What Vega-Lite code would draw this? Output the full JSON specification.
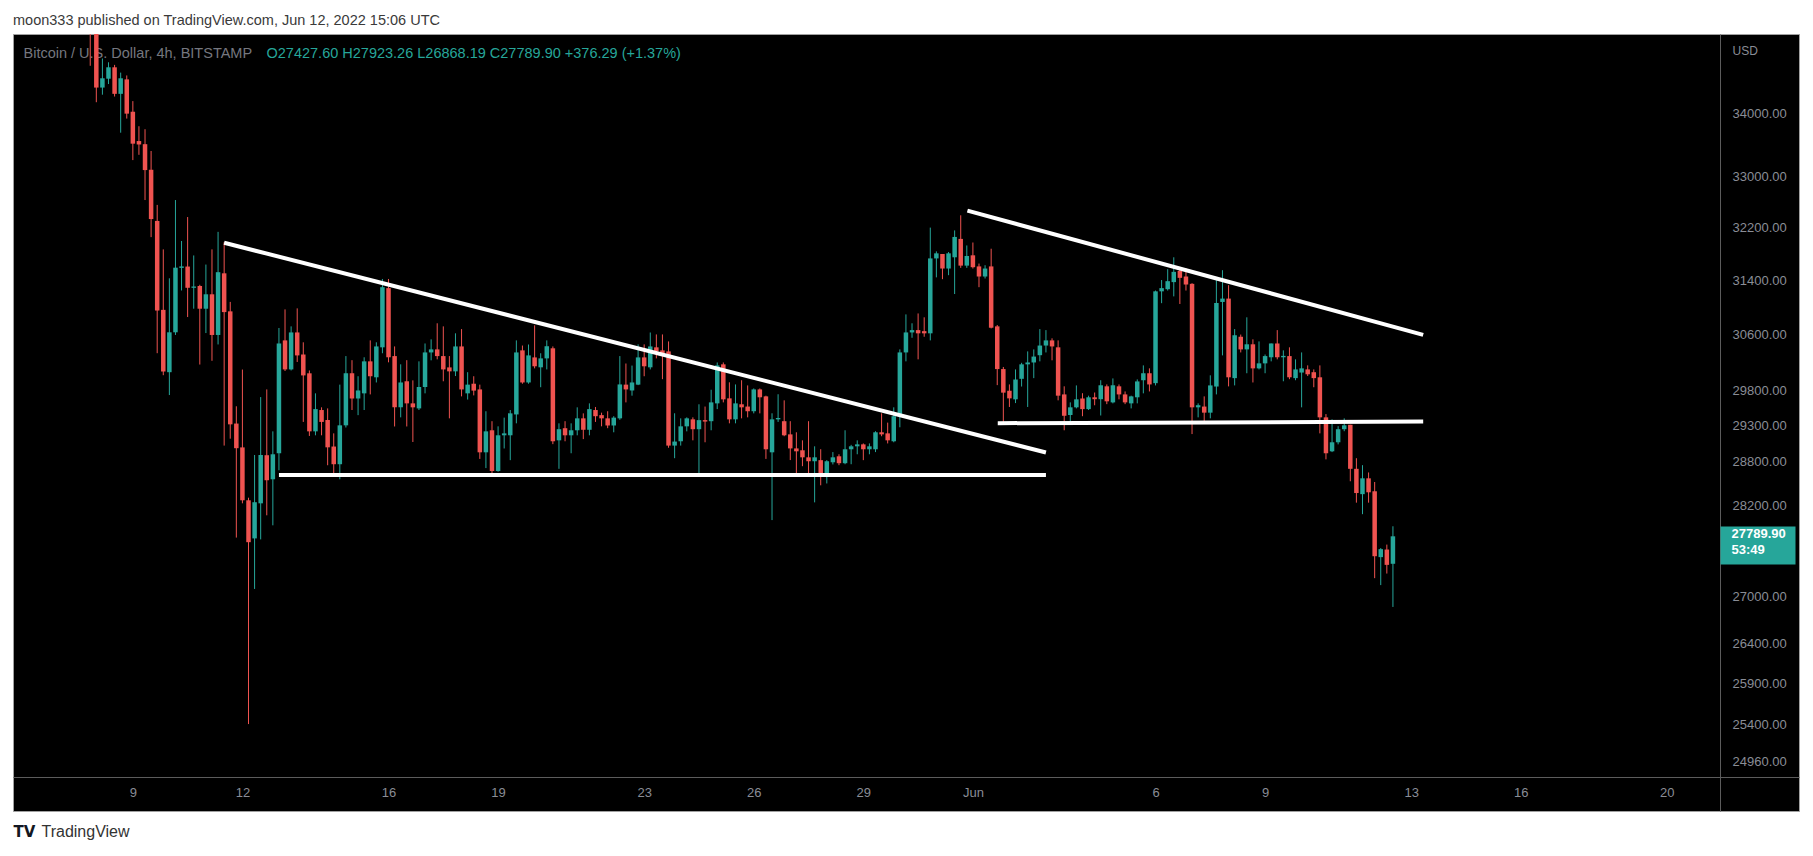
{
  "$schema": "https://vega.github.io/schema/vega-lite/v6.json",
  "width": 1786,
  "height": 777,
  "autosize": {"type": "none"},
  "padding": {"left": 13, "top": 34, "right": 14, "bottom": 45},
  "background": "#ffffff",
  "config": {
    "view": {"fill": "#000000", "stroke": "#a0a0a0", "strokeWidth": 1},
    "font": "Liberation Sans",
    "axis": {"grid": false, "labelFont": "Liberation Sans", "titleFont": "Liberation Sans"}
  },
  "title": {
    "text": "moon333 published on TradingView.com, Jun 12, 2022 15:06 UTC",
    "anchor": "start",
    "frame": "group",
    "orient": "top",
    "offset": -8,
    "baseline": "bottom",
    "font": "Liberation Sans",
    "fontSize": 14.5,
    "fontWeight": "normal",
    "color": "#3a3a3a"
  },
  "datasets": {
    "candles": [
      {"t": "2022-05-07T20:00:00Z", "o": 35800, "h": 36000, "l": 34790, "c": 35450},
      {"t": "2022-05-08T00:00:00Z", "o": 35450, "h": 35600, "l": 34190, "c": 34430},
      {"t": "2022-05-08T04:00:00Z", "o": 34430, "h": 34911, "l": 34313, "c": 34583},
      {"t": "2022-05-08T08:00:00Z", "o": 34576, "h": 34848, "l": 34488, "c": 34765},
      {"t": "2022-05-08T12:00:00Z", "o": 34765, "h": 34805, "l": 34283, "c": 34327},
      {"t": "2022-05-08T16:00:00Z", "o": 34327, "h": 34677, "l": 33696, "c": 34583},
      {"t": "2022-05-08T20:00:00Z", "o": 34565, "h": 34630, "l": 33924, "c": 34004},
      {"t": "2022-05-09T00:00:00Z", "o": 34035, "h": 34208, "l": 33258, "c": 33520},
      {"t": "2022-05-09T04:00:00Z", "o": 33562, "h": 33800, "l": 33342, "c": 33507},
      {"t": "2022-05-09T08:00:00Z", "o": 33512, "h": 33752, "l": 32630, "c": 33100},
      {"t": "2022-05-09T12:00:00Z", "o": 33105, "h": 33403, "l": 32057, "c": 32335},
      {"t": "2022-05-09T16:00:00Z", "o": 32306, "h": 32554, "l": 30329, "c": 30953},
      {"t": "2022-05-09T20:00:00Z", "o": 30963, "h": 31870, "l": 30012, "c": 30065},
      {"t": "2022-05-10T00:00:00Z", "o": 30055, "h": 31433, "l": 29729, "c": 30633},
      {"t": "2022-05-10T04:00:00Z", "o": 30633, "h": 32630, "l": 30594, "c": 31593},
      {"t": "2022-05-10T08:00:00Z", "o": 31590, "h": 31998, "l": 31251, "c": 31612},
      {"t": "2022-05-10T12:00:00Z", "o": 31610, "h": 32366, "l": 30857, "c": 31291},
      {"t": "2022-05-10T16:00:00Z", "o": 31291, "h": 31778, "l": 30980, "c": 31310},
      {"t": "2022-05-10T20:00:00Z", "o": 31318, "h": 31336, "l": 30165, "c": 30980},
      {"t": "2022-05-11T00:00:00Z", "o": 30980, "h": 31640, "l": 30622, "c": 31194},
      {"t": "2022-05-11T04:00:00Z", "o": 31194, "h": 31870, "l": 30219, "c": 30594},
      {"t": "2022-05-11T08:00:00Z", "o": 30594, "h": 32138, "l": 30456, "c": 31525},
      {"t": "2022-05-11T12:00:00Z", "o": 31508, "h": 31980, "l": 29020, "c": 30930},
      {"t": "2022-05-11T16:00:00Z", "o": 30941, "h": 31081, "l": 29116, "c": 29316},
      {"t": "2022-05-11T20:00:00Z", "o": 29327, "h": 29570, "l": 27773, "c": 28984},
      {"t": "2022-05-12T00:00:00Z", "o": 28995, "h": 30093, "l": 28231, "c": 28272},
      {"t": "2022-05-12T04:00:00Z", "o": 28272, "h": 28307, "l": 25407, "c": 27712},
      {"t": "2022-05-12T08:00:00Z", "o": 27762, "h": 28890, "l": 27100, "c": 28246},
      {"t": "2022-05-12T12:00:00Z", "o": 28231, "h": 29700, "l": 27749, "c": 28890},
      {"t": "2022-05-12T16:00:00Z", "o": 28887, "h": 29809, "l": 28070, "c": 28544},
      {"t": "2022-05-12T20:00:00Z", "o": 28557, "h": 29218, "l": 27936, "c": 28900},
      {"t": "2022-05-13T00:00:00Z", "o": 28914, "h": 30696, "l": 28680, "c": 30470},
      {"t": "2022-05-13T04:00:00Z", "o": 30515, "h": 30970, "l": 30072, "c": 30095},
      {"t": "2022-05-13T08:00:00Z", "o": 30095, "h": 30720, "l": 30080, "c": 30631},
      {"t": "2022-05-13T12:00:00Z", "o": 30631, "h": 30985, "l": 30202, "c": 30297},
      {"t": "2022-05-13T16:00:00Z", "o": 30310, "h": 30487, "l": 29350, "c": 30009},
      {"t": "2022-05-13T20:00:00Z", "o": 30039, "h": 30080, "l": 29154, "c": 29218},
      {"t": "2022-05-14T00:00:00Z", "o": 29218, "h": 29753, "l": 29163, "c": 29530},
      {"t": "2022-05-14T04:00:00Z", "o": 29517, "h": 29555, "l": 29163, "c": 29350},
      {"t": "2022-05-14T08:00:00Z", "o": 29377, "h": 29540, "l": 28749, "c": 28996},
      {"t": "2022-05-14T12:00:00Z", "o": 29007, "h": 29190, "l": 28612, "c": 28763},
      {"t": "2022-05-14T16:00:00Z", "o": 28763, "h": 29877, "l": 28557, "c": 29302},
      {"t": "2022-05-14T20:00:00Z", "o": 29302, "h": 30287, "l": 29272, "c": 30040},
      {"t": "2022-05-15T00:00:00Z", "o": 30040, "h": 30228, "l": 29517, "c": 29680},
      {"t": "2022-05-15T04:00:00Z", "o": 29680, "h": 29997, "l": 29445, "c": 29794},
      {"t": "2022-05-15T08:00:00Z", "o": 29753, "h": 30270, "l": 29517, "c": 30211},
      {"t": "2022-05-15T12:00:00Z", "o": 30211, "h": 30515, "l": 29738, "c": 29997},
      {"t": "2022-05-15T16:00:00Z", "o": 29982, "h": 30487, "l": 29908, "c": 30427},
      {"t": "2022-05-15T20:00:00Z", "o": 30414, "h": 31423, "l": 30328, "c": 31300},
      {"t": "2022-05-16T00:00:00Z", "o": 31286, "h": 31423, "l": 30197, "c": 30270},
      {"t": "2022-05-16T04:00:00Z", "o": 30287, "h": 30427, "l": 29286, "c": 29556},
      {"t": "2022-05-16T08:00:00Z", "o": 29556, "h": 30168, "l": 29414, "c": 29908},
      {"t": "2022-05-16T12:00:00Z", "o": 29925, "h": 30228, "l": 29286, "c": 29611},
      {"t": "2022-05-16T16:00:00Z", "o": 29611, "h": 29938, "l": 29070, "c": 29555},
      {"t": "2022-05-16T20:00:00Z", "o": 29540, "h": 30211, "l": 29517, "c": 29843},
      {"t": "2022-05-17T00:00:00Z", "o": 29843, "h": 30470, "l": 29753, "c": 30340},
      {"t": "2022-05-17T04:00:00Z", "o": 30340, "h": 30530, "l": 30226, "c": 30384},
      {"t": "2022-05-17T08:00:00Z", "o": 30384, "h": 30765, "l": 30240, "c": 30287},
      {"t": "2022-05-17T12:00:00Z", "o": 30287, "h": 30720, "l": 29925, "c": 30095},
      {"t": "2022-05-17T16:00:00Z", "o": 30124, "h": 30287, "l": 29400, "c": 30067},
      {"t": "2022-05-17T20:00:00Z", "o": 30067, "h": 30618, "l": 30000, "c": 30427},
      {"t": "2022-05-18T00:00:00Z", "o": 30427, "h": 30680, "l": 29710, "c": 29809},
      {"t": "2022-05-18T04:00:00Z", "o": 29753, "h": 30055, "l": 29665, "c": 29877},
      {"t": "2022-05-18T08:00:00Z", "o": 29890, "h": 29997, "l": 29724, "c": 29792},
      {"t": "2022-05-18T12:00:00Z", "o": 29809, "h": 29877, "l": 28836, "c": 28927},
      {"t": "2022-05-18T16:00:00Z", "o": 28927, "h": 29500, "l": 28710, "c": 29218},
      {"t": "2022-05-18T20:00:00Z", "o": 29233, "h": 29360, "l": 28612, "c": 28670},
      {"t": "2022-05-19T00:00:00Z", "o": 28670, "h": 29288, "l": 28660, "c": 29163},
      {"t": "2022-05-19T04:00:00Z", "o": 29163, "h": 29410, "l": 28980, "c": 29190},
      {"t": "2022-05-19T08:00:00Z", "o": 29163, "h": 29517, "l": 28819, "c": 29470},
      {"t": "2022-05-19T12:00:00Z", "o": 29455, "h": 30515, "l": 29330, "c": 30340},
      {"t": "2022-05-19T16:00:00Z", "o": 30370, "h": 30440, "l": 29890, "c": 29908},
      {"t": "2022-05-19T20:00:00Z", "o": 29908, "h": 30455, "l": 29890, "c": 30297},
      {"t": "2022-05-20T00:00:00Z", "o": 30268, "h": 30735, "l": 30110, "c": 30140},
      {"t": "2022-05-20T04:00:00Z", "o": 30125, "h": 30328, "l": 29840, "c": 30254},
      {"t": "2022-05-20T08:00:00Z", "o": 30254, "h": 30515, "l": 30095, "c": 30430},
      {"t": "2022-05-20T12:00:00Z", "o": 30400, "h": 30427, "l": 29040, "c": 29080},
      {"t": "2022-05-20T16:00:00Z", "o": 29093, "h": 29330, "l": 28700, "c": 29248},
      {"t": "2022-05-20T20:00:00Z", "o": 29262, "h": 29360, "l": 29080, "c": 29163},
      {"t": "2022-05-21T00:00:00Z", "o": 29163, "h": 29330, "l": 28914, "c": 29233},
      {"t": "2022-05-21T04:00:00Z", "o": 29233, "h": 29555, "l": 29163, "c": 29400},
      {"t": "2022-05-21T08:00:00Z", "o": 29400, "h": 29470, "l": 29110, "c": 29240},
      {"t": "2022-05-21T12:00:00Z", "o": 29240, "h": 29611, "l": 29163, "c": 29530},
      {"t": "2022-05-21T16:00:00Z", "o": 29517, "h": 29560, "l": 29350, "c": 29430},
      {"t": "2022-05-21T20:00:00Z", "o": 29445, "h": 29480, "l": 29288, "c": 29400},
      {"t": "2022-05-22T00:00:00Z", "o": 29400, "h": 29500, "l": 29262, "c": 29300},
      {"t": "2022-05-22T04:00:00Z", "o": 29300, "h": 29430, "l": 29205, "c": 29410},
      {"t": "2022-05-22T08:00:00Z", "o": 29400, "h": 30287, "l": 29380, "c": 29880},
      {"t": "2022-05-22T12:00:00Z", "o": 29877, "h": 30180, "l": 29625, "c": 29809},
      {"t": "2022-05-22T16:00:00Z", "o": 29794, "h": 30150, "l": 29720, "c": 29908},
      {"t": "2022-05-22T20:00:00Z", "o": 29877, "h": 30457, "l": 29870, "c": 30268},
      {"t": "2022-05-23T00:00:00Z", "o": 30268, "h": 30457, "l": 29997, "c": 30140},
      {"t": "2022-05-23T04:00:00Z", "o": 30125, "h": 30630, "l": 30095, "c": 30427},
      {"t": "2022-05-23T08:00:00Z", "o": 30414, "h": 30602, "l": 30254, "c": 30355},
      {"t": "2022-05-23T12:00:00Z", "o": 30370, "h": 30602, "l": 29955, "c": 30326},
      {"t": "2022-05-23T16:00:00Z", "o": 30355, "h": 30500, "l": 28990, "c": 29020},
      {"t": "2022-05-23T20:00:00Z", "o": 29020, "h": 29471, "l": 28846, "c": 29076},
      {"t": "2022-05-24T00:00:00Z", "o": 29080, "h": 29400, "l": 29020, "c": 29288},
      {"t": "2022-05-24T04:00:00Z", "o": 29288, "h": 29414, "l": 29218, "c": 29400},
      {"t": "2022-05-24T08:00:00Z", "o": 29386, "h": 29414, "l": 29093, "c": 29248},
      {"t": "2022-05-24T12:00:00Z", "o": 29248, "h": 29598, "l": 28625, "c": 29375},
      {"t": "2022-05-24T16:00:00Z", "o": 29375, "h": 29566, "l": 29066, "c": 29355},
      {"t": "2022-05-24T20:00:00Z", "o": 29360, "h": 29804, "l": 29233, "c": 29625},
      {"t": "2022-05-25T00:00:00Z", "o": 29611, "h": 30195, "l": 29530, "c": 30153},
      {"t": "2022-05-25T04:00:00Z", "o": 30168, "h": 30195, "l": 29625, "c": 29668},
      {"t": "2022-05-25T08:00:00Z", "o": 29682, "h": 29910, "l": 29330, "c": 29386},
      {"t": "2022-05-25T12:00:00Z", "o": 29386, "h": 29880, "l": 29330, "c": 29611},
      {"t": "2022-05-25T16:00:00Z", "o": 29598, "h": 29940, "l": 29400, "c": 29555},
      {"t": "2022-05-25T20:00:00Z", "o": 29566, "h": 29866, "l": 29414, "c": 29500},
      {"t": "2022-05-26T00:00:00Z", "o": 29500, "h": 29823, "l": 29470, "c": 29809},
      {"t": "2022-05-26T04:00:00Z", "o": 29809, "h": 29823, "l": 29470, "c": 29697},
      {"t": "2022-05-26T08:00:00Z", "o": 29710, "h": 29720, "l": 28836, "c": 28969},
      {"t": "2022-05-26T12:00:00Z", "o": 28927, "h": 29471, "l": 28006, "c": 29386},
      {"t": "2022-05-26T16:00:00Z", "o": 29386, "h": 29740, "l": 29350, "c": 29405},
      {"t": "2022-05-26T20:00:00Z", "o": 29360, "h": 29654, "l": 29150, "c": 29163},
      {"t": "2022-05-27T00:00:00Z", "o": 29176, "h": 29360, "l": 28820, "c": 28981},
      {"t": "2022-05-27T04:00:00Z", "o": 28981, "h": 29205, "l": 28597, "c": 28941},
      {"t": "2022-05-27T08:00:00Z", "o": 28955, "h": 29093, "l": 28736, "c": 28858},
      {"t": "2022-05-27T12:00:00Z", "o": 28858, "h": 29360, "l": 28612, "c": 28804},
      {"t": "2022-05-27T16:00:00Z", "o": 28804, "h": 29010, "l": 28244, "c": 28858},
      {"t": "2022-05-27T20:00:00Z", "o": 28819, "h": 28970, "l": 28475, "c": 28590},
      {"t": "2022-05-28T00:00:00Z", "o": 28590, "h": 28819, "l": 28500, "c": 28804},
      {"t": "2022-05-28T04:00:00Z", "o": 28790, "h": 28930, "l": 28760, "c": 28858},
      {"t": "2022-05-28T08:00:00Z", "o": 28872, "h": 28900, "l": 28750, "c": 28777},
      {"t": "2022-05-28T12:00:00Z", "o": 28777, "h": 29233, "l": 28763, "c": 28969},
      {"t": "2022-05-28T16:00:00Z", "o": 28969, "h": 29030, "l": 28763, "c": 29010},
      {"t": "2022-05-28T20:00:00Z", "o": 29010, "h": 29093, "l": 28900, "c": 29037},
      {"t": "2022-05-29T00:00:00Z", "o": 29037, "h": 29050, "l": 28819, "c": 28969},
      {"t": "2022-05-29T04:00:00Z", "o": 28969, "h": 29050, "l": 28900, "c": 29010},
      {"t": "2022-05-29T08:00:00Z", "o": 28969, "h": 29220, "l": 28930, "c": 29205},
      {"t": "2022-05-29T12:00:00Z", "o": 29205, "h": 29471, "l": 29150, "c": 29176},
      {"t": "2022-05-29T16:00:00Z", "o": 29190, "h": 29340, "l": 29050, "c": 29093},
      {"t": "2022-05-29T20:00:00Z", "o": 29080, "h": 29555, "l": 29066, "c": 29430},
      {"t": "2022-05-30T00:00:00Z", "o": 29430, "h": 30384, "l": 29275, "c": 30340},
      {"t": "2022-05-30T04:00:00Z", "o": 30340, "h": 30896, "l": 30211, "c": 30631},
      {"t": "2022-05-30T08:00:00Z", "o": 30631, "h": 30765, "l": 30553, "c": 30665},
      {"t": "2022-05-30T12:00:00Z", "o": 30665, "h": 30910, "l": 30240, "c": 30618},
      {"t": "2022-05-30T16:00:00Z", "o": 30650, "h": 30853, "l": 30568, "c": 30618},
      {"t": "2022-05-30T20:00:00Z", "o": 30618, "h": 32203, "l": 30515, "c": 31733},
      {"t": "2022-05-31T00:00:00Z", "o": 31733, "h": 31840, "l": 31447, "c": 31810},
      {"t": "2022-05-31T04:00:00Z", "o": 31800, "h": 31800, "l": 31420, "c": 31580},
      {"t": "2022-05-31T08:00:00Z", "o": 31580, "h": 31830, "l": 31480, "c": 31810},
      {"t": "2022-05-31T12:00:00Z", "o": 31750, "h": 32160, "l": 31198, "c": 32060},
      {"t": "2022-05-31T16:00:00Z", "o": 32030, "h": 32393, "l": 31590, "c": 31624},
      {"t": "2022-05-31T20:00:00Z", "o": 31624, "h": 31930, "l": 31590, "c": 31770},
      {"t": "2022-06-01T00:00:00Z", "o": 31780, "h": 31975, "l": 31580, "c": 31600},
      {"t": "2022-06-01T04:00:00Z", "o": 31612, "h": 31655, "l": 31300, "c": 31460},
      {"t": "2022-06-01T08:00:00Z", "o": 31460, "h": 31630, "l": 31430, "c": 31580},
      {"t": "2022-06-01T12:00:00Z", "o": 31612, "h": 31880, "l": 30690, "c": 30700},
      {"t": "2022-06-01T16:00:00Z", "o": 30720, "h": 30740, "l": 29870, "c": 30100},
      {"t": "2022-06-01T20:00:00Z", "o": 30100, "h": 30130, "l": 29320, "c": 29763},
      {"t": "2022-06-02T00:00:00Z", "o": 29790, "h": 29880, "l": 29560, "c": 29682},
      {"t": "2022-06-02T04:00:00Z", "o": 29668, "h": 30095, "l": 29615, "c": 29950},
      {"t": "2022-06-02T08:00:00Z", "o": 29960, "h": 30190, "l": 29850, "c": 30168},
      {"t": "2022-06-02T12:00:00Z", "o": 30168, "h": 30355, "l": 29560, "c": 30195},
      {"t": "2022-06-02T16:00:00Z", "o": 30195, "h": 30384, "l": 29970, "c": 30280},
      {"t": "2022-06-02T20:00:00Z", "o": 30300, "h": 30680, "l": 30211, "c": 30440},
      {"t": "2022-06-03T00:00:00Z", "o": 30440, "h": 30665, "l": 30340, "c": 30515},
      {"t": "2022-06-03T04:00:00Z", "o": 30515, "h": 30545, "l": 30226, "c": 30427},
      {"t": "2022-06-03T08:00:00Z", "o": 30414, "h": 30515, "l": 29654, "c": 29720},
      {"t": "2022-06-03T12:00:00Z", "o": 29738, "h": 29853, "l": 29233, "c": 29436},
      {"t": "2022-06-03T16:00:00Z", "o": 29447, "h": 29625, "l": 29350, "c": 29555},
      {"t": "2022-06-03T20:00:00Z", "o": 29555, "h": 29866, "l": 29540, "c": 29668},
      {"t": "2022-06-04T00:00:00Z", "o": 29680, "h": 29755, "l": 29430, "c": 29530},
      {"t": "2022-06-04T04:00:00Z", "o": 29530, "h": 29720, "l": 29517, "c": 29697},
      {"t": "2022-06-04T08:00:00Z", "o": 29697, "h": 29765, "l": 29584, "c": 29670},
      {"t": "2022-06-04T12:00:00Z", "o": 29670, "h": 29940, "l": 29440, "c": 29868},
      {"t": "2022-06-04T16:00:00Z", "o": 29853, "h": 29880, "l": 29600, "c": 29640},
      {"t": "2022-06-04T20:00:00Z", "o": 29625, "h": 29966, "l": 29611, "c": 29868},
      {"t": "2022-06-05T00:00:00Z", "o": 29853, "h": 29880, "l": 29668, "c": 29738},
      {"t": "2022-06-05T04:00:00Z", "o": 29738, "h": 29780, "l": 29600, "c": 29625},
      {"t": "2022-06-05T08:00:00Z", "o": 29611, "h": 29720, "l": 29540, "c": 29710},
      {"t": "2022-06-05T12:00:00Z", "o": 29697, "h": 29952, "l": 29611, "c": 29923},
      {"t": "2022-06-05T16:00:00Z", "o": 29940, "h": 30153, "l": 29753, "c": 30040},
      {"t": "2022-06-05T20:00:00Z", "o": 30040, "h": 30110, "l": 29780, "c": 29880},
      {"t": "2022-06-06T00:00:00Z", "o": 29898, "h": 31250, "l": 29866, "c": 31238},
      {"t": "2022-06-06T04:00:00Z", "o": 31238, "h": 31407, "l": 31062, "c": 31286},
      {"t": "2022-06-06T08:00:00Z", "o": 31270, "h": 31570, "l": 31250, "c": 31390},
      {"t": "2022-06-06T12:00:00Z", "o": 31376, "h": 31750, "l": 31163, "c": 31530},
      {"t": "2022-06-06T16:00:00Z", "o": 31545, "h": 31560, "l": 31050, "c": 31440},
      {"t": "2022-06-06T20:00:00Z", "o": 31460, "h": 31583, "l": 31250, "c": 31340},
      {"t": "2022-06-07T00:00:00Z", "o": 31350, "h": 31360, "l": 29180, "c": 29555},
      {"t": "2022-06-07T04:00:00Z", "o": 29555, "h": 29611, "l": 29414, "c": 29585},
      {"t": "2022-06-07T08:00:00Z", "o": 29566, "h": 29710, "l": 29330, "c": 29480},
      {"t": "2022-06-07T12:00:00Z", "o": 29480, "h": 30010, "l": 29400, "c": 29866},
      {"t": "2022-06-07T16:00:00Z", "o": 29850, "h": 31407, "l": 29738, "c": 31065},
      {"t": "2022-06-07T20:00:00Z", "o": 31080, "h": 31555, "l": 30297, "c": 31130},
      {"t": "2022-06-08T00:00:00Z", "o": 31130, "h": 31330, "l": 29852, "c": 29982},
      {"t": "2022-06-08T04:00:00Z", "o": 29970, "h": 30680, "l": 29866, "c": 30590},
      {"t": "2022-06-08T08:00:00Z", "o": 30568, "h": 30600, "l": 30340, "c": 30384},
      {"t": "2022-06-08T12:00:00Z", "o": 30384, "h": 30853, "l": 30040, "c": 30458},
      {"t": "2022-06-08T16:00:00Z", "o": 30458, "h": 30530, "l": 29908, "c": 30110},
      {"t": "2022-06-08T20:00:00Z", "o": 30110, "h": 30500, "l": 30095, "c": 30182},
      {"t": "2022-06-09T00:00:00Z", "o": 30182, "h": 30310, "l": 30040, "c": 30287},
      {"t": "2022-06-09T04:00:00Z", "o": 30270, "h": 30470, "l": 30211, "c": 30470},
      {"t": "2022-06-09T08:00:00Z", "o": 30470, "h": 30665, "l": 30240, "c": 30270},
      {"t": "2022-06-09T12:00:00Z", "o": 30270, "h": 30370, "l": 29925, "c": 30290},
      {"t": "2022-06-09T16:00:00Z", "o": 30287, "h": 30414, "l": 29955, "c": 29982},
      {"t": "2022-06-09T20:00:00Z", "o": 29970, "h": 30240, "l": 29940, "c": 30095},
      {"t": "2022-06-10T00:00:00Z", "o": 30050, "h": 30340, "l": 29555, "c": 30110},
      {"t": "2022-06-10T04:00:00Z", "o": 30095, "h": 30153, "l": 30000, "c": 30025},
      {"t": "2022-06-10T08:00:00Z", "o": 30055, "h": 30095, "l": 29840, "c": 29970},
      {"t": "2022-06-10T12:00:00Z", "o": 29982, "h": 30153, "l": 29190, "c": 29414},
      {"t": "2022-06-10T16:00:00Z", "o": 29414, "h": 29460, "l": 28830, "c": 28914},
      {"t": "2022-06-10T20:00:00Z", "o": 28941, "h": 29386, "l": 28930, "c": 29066},
      {"t": "2022-06-11T00:00:00Z", "o": 29066, "h": 29290, "l": 29037, "c": 29248},
      {"t": "2022-06-11T04:00:00Z", "o": 29248, "h": 29400, "l": 29220, "c": 29302},
      {"t": "2022-06-11T08:00:00Z", "o": 29310, "h": 29310, "l": 28530, "c": 28700},
      {"t": "2022-06-11T12:00:00Z", "o": 28700, "h": 28846, "l": 28240, "c": 28370},
      {"t": "2022-06-11T16:00:00Z", "o": 28355, "h": 28750, "l": 28085, "c": 28570},
      {"t": "2022-06-11T20:00:00Z", "o": 28570, "h": 28650, "l": 28240, "c": 28380},
      {"t": "2022-06-12T00:00:00Z", "o": 28394, "h": 28520, "l": 27240, "c": 27527},
      {"t": "2022-06-12T04:00:00Z", "o": 27515, "h": 27634, "l": 27150, "c": 27620},
      {"t": "2022-06-12T08:00:00Z", "o": 27615, "h": 27680, "l": 27300, "c": 27413.61},
      {"t": "2022-06-12T12:00:00Z", "o": 27427.6, "h": 27923.26, "l": 26868.19, "c": 27789.9}
    ],
    "lines": [
      {"t": "2022-05-11T12:00:00Z", "t2": "2022-06-03T00:00:00Z", "p": 31972, "p2": 28924},
      {"t": "2022-05-13T00:00:00Z", "t2": "2022-06-03T00:00:00Z", "p": 28617, "p2": 28617},
      {"t": "2022-05-31T20:24:00Z", "t2": "2022-06-13T07:53:00Z", "p": 32466, "p2": 30595},
      {"t": "2022-06-01T16:20:00Z", "t2": "2022-06-13T07:53:00Z", "p": 29332, "p2": 29355}
    ]
  },
  "layer": [
    {
      "data": {"name": "candles"},
      "mark": {"type": "rule", "strokeWidth": 1, "clip": true},
      "encoding": {
        "x": {
          "field": "t",
          "type": "temporal",
          "scale": {
            "type": "utc",
            "domain": [
              {"year": 2022, "month": 5, "date": 5, "hours": 20, "minutes": 32, "utc": true},
              {"year": 2022, "month": 6, "date": 23, "hours": 11, "minutes": 33, "utc": true}
            ]
          },
          "axis": {
            "orient": "bottom",
            "offset": -34,
            "values": [
              {"year": 2022, "month": 5, "date": 9, "utc": true},
              {"year": 2022, "month": 5, "date": 12, "utc": true},
              {"year": 2022, "month": 5, "date": 16, "utc": true},
              {"year": 2022, "month": 5, "date": 19, "utc": true},
              {"year": 2022, "month": 5, "date": 23, "utc": true},
              {"year": 2022, "month": 5, "date": 26, "utc": true},
              {"year": 2022, "month": 5, "date": 29, "utc": true},
              {"year": 2022, "month": 6, "date": 1, "utc": true},
              {"year": 2022, "month": 6, "date": 6, "utc": true},
              {"year": 2022, "month": 6, "date": 9, "utc": true},
              {"year": 2022, "month": 6, "date": 13, "utc": true},
              {"year": 2022, "month": 6, "date": 16, "utc": true},
              {"year": 2022, "month": 6, "date": 20, "utc": true}
            ],
            "labelExpr": "utcdate(datum.value) == 1 ? 'Jun' : '' + utcdate(datum.value)",
            "labelColor": "#8a8d96",
            "labelFontSize": 13,
            "labelPadding": 9,
            "labelFlush": false,
            "labelOverlap": false,
            "ticks": false,
            "grid": false,
            "domain": true,
            "domainColor": "#5c5c5c",
            "domainWidth": 1,
            "title": "TradingView",
            "titleX": 28,
            "titleY": 54,
            "titleAlign": "left",
            "titleBaseline": "middle",
            "titleFontSize": 16,
            "titleFontWeight": "normal",
            "titleColor": "#333333"
          }
        },
        "y": {
          "field": "l",
          "type": "quantitative",
          "scale": {"type": "log", "domain": [24374, 35322], "nice": false, "zero": false},
          "axis": {
            "orient": "right",
            "offset": -79,
            "values": [34000, 33000, 32200, 31400, 30600, 29800, 29300, 28800, 28200, 27000, 26400, 25900, 25400, 24960],
            "format": ".2f",
            "labelColor": "#8a8d96",
            "labelFontSize": 13,
            "labelPadding": 12,
            "labelAlign": "left",
            "labelBaseline": "middle",
            "labelOverlap": false,
            "ticks": false,
            "grid": false,
            "domain": true,
            "domainColor": "#5c5c5c",
            "domainWidth": 1,
            "title": "USD",
            "titleAngle": 0,
            "titleX": 12,
            "titleY": 16,
            "titleAlign": "left",
            "titleBaseline": "middle",
            "titleFontSize": 12,
            "titleFontWeight": "normal",
            "titleColor": "#8a8d96"
          }
        },
        "y2": {"field": "h"},
        "color": {
          "condition": {"test": "datum.c >= datum.o", "value": "#26a69a"},
          "value": "#ef5350"
        }
      }
    },
    {
      "data": {"name": "candles"},
      "mark": {"type": "bar", "width": 4.5, "clip": true},
      "encoding": {
        "x": {
          "field": "t",
          "type": "temporal",
          "axis": {
            "orient": "top",
            "offset": 0,
            "labels": false,
            "ticks": false,
            "domain": false,
            "grid": false,
            "title": "Bitcoin / U.S. Dollar, 4h, BITSTAMP",
            "titleX": 10,
            "titleY": 19,
            "titleAlign": "left",
            "titleBaseline": "middle",
            "titleFontSize": 14.5,
            "titleFontWeight": "normal",
            "titleColor": "#75777f"
          }
        },
        "y": {
          "field": "o",
          "type": "quantitative",
          "axis": {
            "orient": "right",
            "offset": -79,
            "values": [27789.9],
            "labelExpr": "['27789.90', '53:49']",
            "labelColor": "#ffffff",
            "labelFontSize": 13,
            "labelFontWeight": "bold",
            "labelAlign": "left",
            "labelBaseline": "top",
            "labelLineHeight": 16,
            "labelPadding": -64,
            "labelOffset": -17,
            "ticks": true,
            "tickSize": 75,
            "tickWidth": 38,
            "tickOffset": 8.5,
            "tickColor": "#26a69a",
            "domain": false,
            "grid": false,
            "title": null
          }
        },
        "y2": {"field": "c"},
        "color": {
          "condition": {"test": "datum.c >= datum.o", "value": "#26a69a"},
          "value": "#ef5350"
        }
      }
    },
    {
      "data": {"name": "lines"},
      "mark": {"type": "rule", "color": "#ffffff", "strokeWidth": 4, "clip": true},
      "encoding": {
        "x": {
          "field": "t",
          "type": "temporal",
          "axis": {
            "orient": "top",
            "offset": 0,
            "labels": false,
            "ticks": false,
            "domain": false,
            "grid": false,
            "title": "O27427.60  H27923.26  L26868.19  C27789.90  +376.29 (+1.37%)",
            "titleX": 253,
            "titleY": 19,
            "titleAlign": "left",
            "titleBaseline": "middle",
            "titleFontSize": 14.5,
            "titleFontWeight": "normal",
            "titleColor": "#26a69a"
          }
        },
        "x2": {"field": "t2"},
        "y": {
          "field": "p",
          "type": "quantitative",
          "axis": {
            "orient": "left",
            "offset": 0,
            "labels": false,
            "ticks": false,
            "domain": false,
            "grid": false,
            "title": "TV",
            "titleAngle": 0,
            "titleX": 0,
            "titleY": 797,
            "titleAlign": "left",
            "titleBaseline": "middle",
            "titleFont": "DejaVu Sans",
            "titleFontSize": 15,
            "titleFontWeight": "bold",
            "titleColor": "#131722"
          }
        },
        "y2": {"field": "p2"}
      }
    }
  ],
  "resolve": {"axis": {"x": "independent", "y": "independent"}}
}
